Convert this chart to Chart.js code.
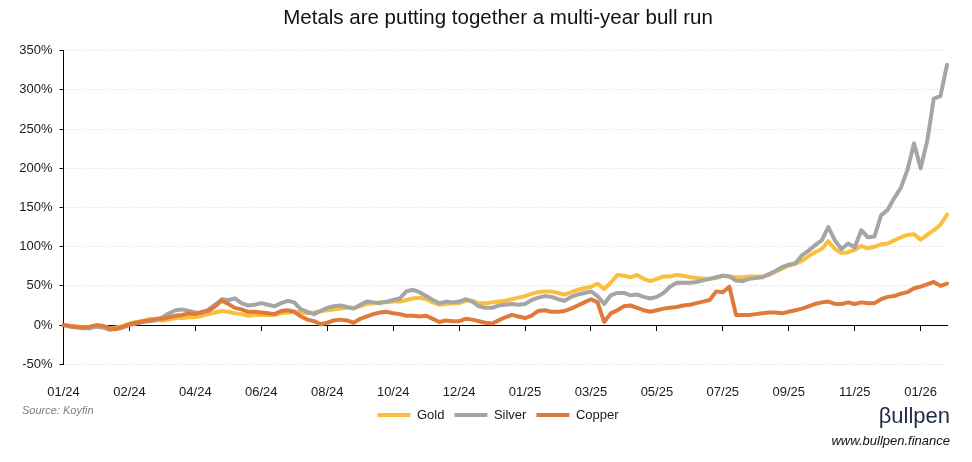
<!DOCTYPE html>
<html>
<head>
<meta charset="utf-8">
<script src="https://cdn.jsdelivr.net/npm/chart.js@4.4.1/dist/chart.umd.min.js"></script>
<style>
  body { margin: 0; background: #fff; }
  #wrap { position: relative; width: 972px; height: 462px; }
  .note { position: absolute; font-family: "Liberation Sans", Arial, sans-serif; white-space: nowrap; line-height: 1; }
  #source { left: 22px; top: 405px; font-size: 11px; font-style: italic; color: #7f7f7f; }
  #logo { right: 22px; top: 405px; font-size: 22px; color: #1f2a44; }
  #site { right: 22px; top: 434px; font-size: 13px; font-style: italic; color: #111; }
</style>
</head>
<body>
<div id="wrap">
  <canvas id="metalsChart" width="972" height="462"></canvas>
  <div class="note" id="source">Source: Koyfin</div>
  <div class="note" id="logo">βullpen</div>
  <div class="note" id="site">www.bullpen.finance</div>
</div>
<script>
// ===== DATA (cumulative % change, one point per ~2 weeks) =====
const tickLabels = ['01/24', '02/24', '04/24', '06/24', '08/24', '10/24', '12/24',
                    '01/25', '03/25', '05/25', '07/25', '09/25', '11/25', '01/26'];
const pointsPerTick = 10;

const gold = [
  0, -1, -2, -2, -3, -1, -2, -4, -3, -1,
  2, 4, 5, 8, 7, 6, 7, 9, 9, 10,
  10, 12, 14, 16, 18, 17, 15, 14, 12, 13,
  13, 13, 13, 15, 16, 17, 16, 15, 16, 18,
  19, 20, 21, 22, 22, 24, 27, 28, 29, 29,
  30, 30, 32, 34, 35, 33, 29, 26, 27, 28,
  28, 31, 31, 28, 28, 29, 30, 31, 33, 35,
  37, 40, 42, 43, 43, 41, 39, 42, 45, 47,
  49, 53, 46, 54, 64, 63, 61, 64, 59, 56,
  59, 62, 62, 64, 63, 61, 60, 59, 59, 60,
  63, 62, 61, 61, 62, 62, 62, 64, 68, 72,
  76, 78, 82, 88, 93, 97, 107, 97, 92, 93,
  96, 101, 98, 100, 103, 104, 108, 112, 115, 116,
  109, 115, 121, 128, 141
];

const silver = [
  0, -2, -3, -4, -4, -2, -3, -6, -5, -3,
  0, 2, 4, 5, 6, 10, 15, 19, 20, 18,
  16, 15, 20, 26, 33, 32, 34, 28, 25, 26,
  28, 26, 24, 28, 31, 29, 20, 17, 14, 18,
  22, 24, 25, 23, 21, 26, 30, 29, 28, 30,
  32, 34, 43, 45, 42, 37, 32, 28, 30, 29,
  30, 33, 30, 24, 22, 22, 25, 26, 27, 26,
  27, 32, 35, 37, 36, 33, 31, 36, 39, 41,
  43, 37, 27, 38, 41, 41, 38, 39, 36, 34,
  36, 41, 49, 54, 54, 54, 55, 57, 59, 61,
  63, 62, 57, 56, 59, 60, 61, 65, 69, 74,
  77, 79, 89, 95, 102, 108, 125, 108, 97, 104,
  99, 121, 112, 113, 140, 147, 162, 175, 198, 232,
  200, 235, 289, 292, 332
];

const copper = [
  0, -1, -2, -3, -2, 0, -1, -4, -5, -2,
  1, 3, 5, 6, 8, 8, 10, 12, 13, 15,
  14, 17, 18, 24, 31, 27, 22, 20, 17, 17,
  16, 15, 14, 18, 19, 17, 11, 7, 5, 1,
  3, 6, 7, 6, 3, 8, 11, 14, 16, 17,
  15, 14, 12, 12, 11, 12, 8, 4, 6, 5,
  5, 8, 7, 5, 3, 2, 6, 10, 13, 11,
  9, 12, 18, 19, 17, 17, 18, 21, 25, 29,
  33, 29, 4, 15, 19, 24, 25, 22, 19, 17,
  19, 21, 22, 23, 25, 26, 28, 30, 32, 43,
  42, 49, 13, 13, 13, 14, 15, 16, 16, 15,
  17, 19, 21, 24, 27, 29, 30, 27, 27, 29,
  27, 29, 28, 28, 33, 36, 37, 40, 42, 47,
  49, 52, 55, 50, 53
];

// category labels: a month label every pointsPerTick points, blank otherwise
const categories = gold.map((v, i) =>
  i % pointsPerTick === 0 ? (tickLabels[i / pointsPerTick] || '') : '');

// ===== STYLE =====
const GOLD = '#F8C03D';
const SILVER = '#A5A5A5';
const COPPER = '#E07A3B';

Chart.defaults.font.family = "'Liberation Sans', Arial, sans-serif";
Chart.defaults.color = '#1a1a1a';

// title + legend are centred over the region right of the value labels (like the Excel layout)
const centreBlocks = {
  id: 'centreBlocks',
  afterLayout(chart) {
    [chart.titleBlock, chart.legend].forEach((b) => {
      if (b) { b.left = 49; b.width = b.right - b.left; }
    });
  }
};

function series(label, data, color, order) {
  return {
    label, data, order,
    borderColor: color,
    backgroundColor: color,
    pointBorderColor: color,
    pointBackgroundColor: color,
    pointBorderWidth: 4,   // used by the legend line
    xAxisID: 'x',
    yAxisID: 'y'
  };
}

const ctx = document.getElementById('metalsChart').getContext('2d');
const metalsChart = new Chart(ctx, {
  type: 'line',
  data: {
    labels: categories,
    datasets: [
      series('Gold', gold, GOLD, 3),
      series('Silver', silver, SILVER, 2),
      series('Copper', copper, COPPER, 1)
    ]
  },
  options: {
    responsive: false,
    animation: false,
    events: [],
    layout: { padding: { left: 0, right: 25, top: 0, bottom: 30.5 } },
    elements: {
      point: { radius: 0 },
      line: { borderWidth: 4, tension: 0, borderJoinStyle: 'round', borderCapStyle: 'round' }
    },
    scales: {
      x: {
        type: 'category',
        position: 'bottom',
        grid: { display: false },
        border: { display: false },
        ticks: { autoSkip: false, maxRotation: 0, minRotation: 0, padding: 12, font: { size: 13 } },
        afterFit: (scale) => { scale.height = 34.2; }
      },
      // zero line with tick marks, like the Excel horizontal axis crossing at 0
      x0: {
        type: 'category',
        axis: 'x',
        position: { y: 0 },
        grid: {
          drawOnChartArea: false,
          drawTicks: true,
          tickLength: 5,
          tickColor: (c) => c.index % pointsPerTick === 0 ? '#000' : 'rgba(0,0,0,0)'
        },
        border: { display: true, color: '#000', width: 1 },
        ticks: { display: false, autoSkip: false }
      },
      y: {
        min: -50,
        max: 350,
        ticks: { stepSize: 50, padding: 7, font: { size: 13 }, callback: (v) => v + '%' },
        grid: {
          color: (c) => (c.tick && c.tick.value === 0) ? '#000' : '#D4D4D4',
          tickColor: '#000',
          tickLength: 4
        },
        border: {
          color: '#000',
          width: 1,
          dash: (c) => (c.tick && c.tick.value === 0) ? [] : [1, 2]
        },
        afterFit: (scale) => { scale.width = 63.5; }
      }
    },
    plugins: {
      title: {
        display: true,
        text: 'Metals are putting together a multi-year bull run',
        color: '#111',
        font: { size: 20.5, weight: 'normal' },
        padding: { top: 6, bottom: 20.1 }
      },
      legend: {
        position: 'bottom',
        labels: {
          usePointStyle: true,
          pointStyle: 'line',
          pointStyleWidth: 33,
          padding: 10,
          font: { size: 13 },
          color: '#1a1a1a',
          sort: (a, b) => a.datasetIndex - b.datasetIndex
        }
      },
      tooltip: { enabled: false }
    }
  },
  plugins: [centreBlocks]
});
</script>
</body>
</html>
